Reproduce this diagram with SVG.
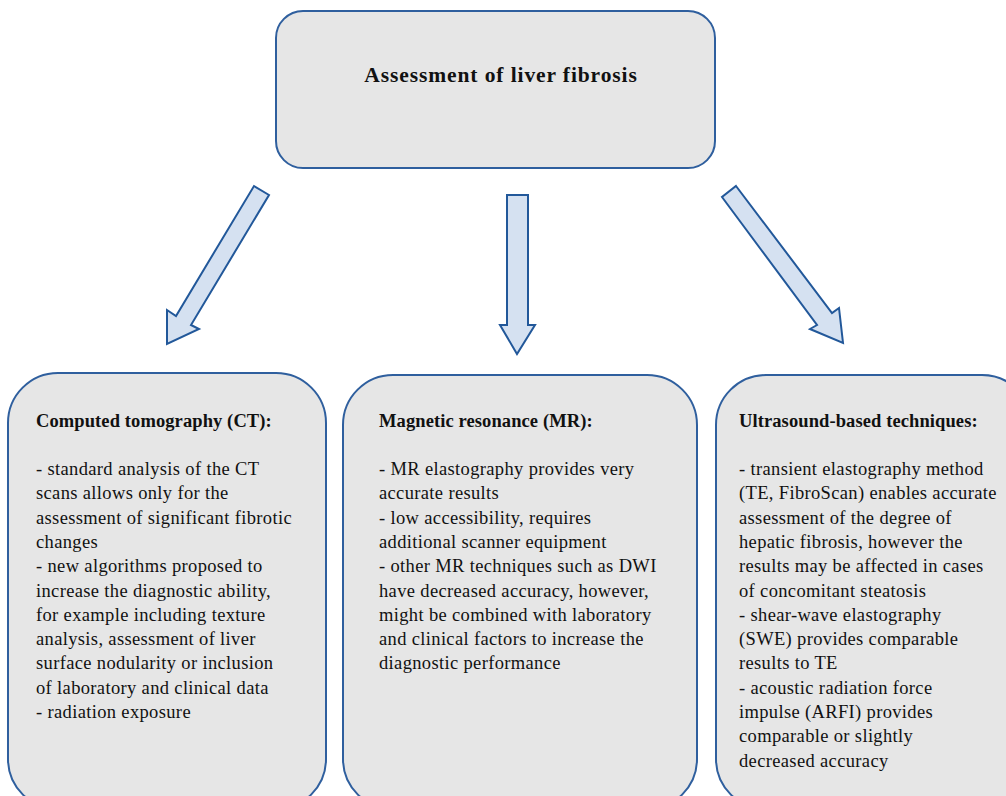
<svg xmlns="http://www.w3.org/2000/svg" width="1006" height="796" viewBox="0 0 1006 796">
<style>
.box{fill:#e6e6e6;stroke:#2f5f9e;stroke-width:2}
.arrow{fill:#d5e1f1;stroke:#22589a;stroke-width:2;stroke-linejoin:miter}
.t{font-family:"Liberation Serif","Times New Roman",serif;fill:#111}
.h{font-weight:bold;font-size:18.5px;letter-spacing:0.1px}
.b{font-size:18.5px;letter-spacing:0.35px}
.title{font-weight:bold;font-size:21.5px;letter-spacing:0.9px}
</style>
<rect width="1006" height="796" fill="#ffffff"/>
<g id="node-top">
<rect class="box" x="276" y="11" width="439" height="157" rx="27" ry="27"/>
<text class="t title" x="501" y="82" text-anchor="middle">Assessment of liver fibrosis</text>
</g>
<g id="connectors">
<polygon class="arrow" points="254,186 269,195 191,325 199,329 167,344 167,310 176,316"/>
<polygon class="arrow" points="507,195 528,195 528,325 535,325 517,354 500,325 507,325"/>
<polygon class="arrow" points="736,186 832,313 839,308 843,343 810,329 817,325 722,197"/>
</g>
<g id="node-ct">
<rect class="box" x="8" y="373" width="318" height="436" rx="50" ry="50"/>
<text class="t h" x="36" y="427">Computed tomography (CT):</text>
<text class="t b" x="36" y="475">
<tspan x="36" y="475">- standard analysis of the CT</tspan>
<tspan x="36" y="499.3">scans allows only for the</tspan>
<tspan x="36" y="523.6">assessment of significant fibrotic</tspan>
<tspan x="36" y="547.9">changes</tspan>
<tspan x="36" y="572.2">- new algorithms proposed to</tspan>
<tspan x="36" y="596.5">increase the diagnostic ability,</tspan>
<tspan x="36" y="620.8">for example including texture</tspan>
<tspan x="36" y="645.1">analysis, assessment of liver</tspan>
<tspan x="36" y="669.4">surface nodularity or inclusion</tspan>
<tspan x="36" y="693.7">of laboratory and clinical data</tspan>
<tspan x="36" y="718">- radiation exposure</tspan>
</text>
</g>
<g id="node-mr">
<rect class="box" x="343" y="375" width="354" height="434" rx="50" ry="50"/>
<text class="t h" x="379" y="427">Magnetic resonance (MR):</text>
<text class="t b" x="379" y="475">
<tspan x="379" y="475">- MR elastography provides very</tspan>
<tspan x="379" y="499.3">accurate results</tspan>
<tspan x="379" y="523.6">- low accessibility, requires</tspan>
<tspan x="379" y="547.9">additional scanner equipment</tspan>
<tspan x="379" y="572.2">- other MR techniques such as DWI</tspan>
<tspan x="379" y="596.5">have decreased accuracy, however,</tspan>
<tspan x="379" y="620.8">might be combined with laboratory</tspan>
<tspan x="379" y="645.1">and clinical factors to increase the</tspan>
<tspan x="379" y="669.4">diagnostic performance</tspan>
</text>
</g>
<g id="node-us">
<rect class="box" x="716" y="375" width="316" height="434" rx="50" ry="50"/>
<text class="t h" x="739" y="427">Ultrasound-based techniques:</text>
<text class="t b" x="739" y="475">
<tspan x="739" y="475">- transient elastography method</tspan>
<tspan x="739" y="499.3">(TE, FibroScan) enables accurate</tspan>
<tspan x="739" y="523.6">assessment of the degree of</tspan>
<tspan x="739" y="547.9">hepatic fibrosis, however the</tspan>
<tspan x="739" y="572.2">results may be affected in cases</tspan>
<tspan x="739" y="596.5">of concomitant steatosis</tspan>
<tspan x="739" y="620.8">- shear-wave elastography</tspan>
<tspan x="739" y="645.1">(SWE) provides comparable</tspan>
<tspan x="739" y="669.4">results to TE</tspan>
<tspan x="739" y="693.7">- acoustic radiation force</tspan>
<tspan x="739" y="718">impulse (ARFI) provides</tspan>
<tspan x="739" y="742.3">comparable or slightly</tspan>
<tspan x="739" y="766.6">decreased accuracy</tspan>
</text>
</g>
</svg>
